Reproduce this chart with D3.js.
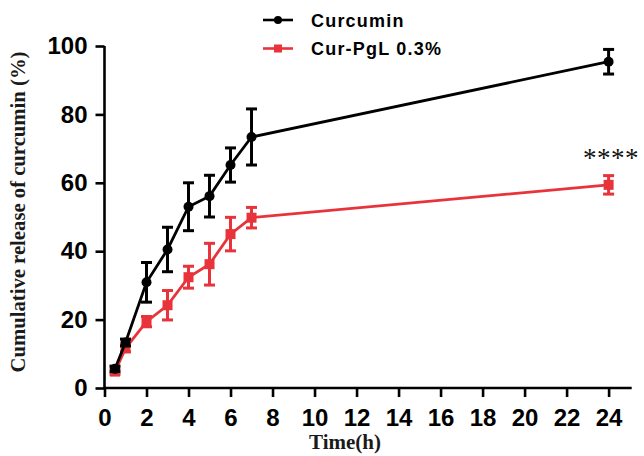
<!DOCTYPE html>
<html><head><meta charset="utf-8">
<script src="https://cdn.jsdelivr.net/npm/d3@7"></script>
<style>body{margin:0;background:#fff}svg{display:block}</style>
</head><body><svg id="c" width="644" height="456"></svg>
<script>
const times = [0.5, 1, 2, 3, 4, 5, 6, 7, 24];
const curcumin = [5.6, 13.3, 30.9, 40.5, 53, 56.1, 65.2, 73.4, 95.4];
const curcuminErr = [0.8, 1, 5.8, 6.5, 7, 6.1, 5, 8.2, 3.6];
const curPgl = [4.8, 11.6, 19.4, 24.2, 32.4, 36.2, 45, 49.8, 59.4];
const curPglErr = [0.8, 1, 1.5, 4.3, 3.2, 6.1, 4.9, 3, 2.7];
const xTicks = [0,2,4,6,8,10,12,14,16,18,20,22,24];
const yTicks = [0,20,40,60,80,100];
const seriesNames = ["Curcumin", "Cur-PgL 0.3%"];
const colors = ["#000000", "#e8333a"];

const svg = d3.select("#c");
const x = d3.scaleLinear().domain([0, 25.1]).range([104.5, 631.7]);
const y = d3.scaleLinear().domain([0, 100]).range([388, 46]);

const tickFont = "'Liberation Sans', Arial, sans-serif";

const xAxis = svg.append("g").attr("transform","translate(0,388)")
  .call(d3.axisBottom(x).tickValues(xTicks).tickSize(9).tickPadding(12).tickSizeOuter(0));
const yAxis = svg.append("g").attr("transform","translate(104.5,0)")
  .call(d3.axisLeft(y).tickValues(yTicks).tickSize(9).tickPadding(8).tickSizeOuter(0));
[xAxis, yAxis].forEach(g => {
  g.select(".domain").attr("stroke","#000").attr("stroke-width",2.6);
  g.selectAll(".tick line").attr("stroke","#000").attr("stroke-width",2.6);
  g.selectAll(".tick text").attr("fill","#000").style("font-family",tickFont)
   .style("font-size","24px").style("font-weight","bold");
});
xAxis.select(".domain").attr("d", `M${x(0)-1},0H${x(25.1)}`);
yAxis.select(".domain").attr("d", `M0,${y(0)+1}V${y(100)}`);

function drawSeries(vals, errs, color, shape){
  const g = svg.append("g");
  const line = d3.line().x((d,i)=>x(times[i])).y(d=>y(d));
  g.append("path").datum(vals).attr("d", line).attr("fill","none")
    .attr("stroke", color).attr("stroke-width", 2.8);
  vals.forEach((v,i)=>{
    const cx = x(times[i]), e = errs[i];
    const top = y(v+e), bot = y(v-e);
    g.append("line").attr("x1",cx).attr("x2",cx).attr("y1",top).attr("y2",bot)
      .attr("stroke",color).attr("stroke-width",3);
    [top, bot].forEach(yy => g.append("line").attr("x1",cx-5.5).attr("x2",cx+5.5)
      .attr("y1",yy).attr("y2",yy).attr("stroke",color).attr("stroke-width",3));
    if(shape==="circle"){
      g.append("circle").attr("cx",cx).attr("cy",y(v)).attr("r",5).attr("fill",color);
    } else {
      g.append("rect").attr("x",cx-5).attr("y",y(v)-5).attr("width",10).attr("height",10).attr("fill",color);
    }
  });
}
drawSeries(curPgl, curPglErr, colors[1], "square");
drawSeries(curcumin, curcuminErr, colors[0], "circle");

// legend
const leg = svg.append("g");
[0,1].forEach(i=>{
  const ly = i===0 ? 20 : 48.5;
  leg.append("line").attr("x1",263).attr("x2",293).attr("y1",ly).attr("y2",ly)
    .attr("stroke",colors[i]).attr("stroke-width",2.6);
  if(i===0) leg.append("circle").attr("cx",278).attr("cy",ly).attr("r",4).attr("fill",colors[i]);
  else leg.append("rect").attr("x",274).attr("y",ly-4).attr("width",8).attr("height",8).attr("fill",colors[i]);
  leg.append("text").attr("x",311).attr("y",ly+6.5).text(seriesNames[i])
    .style("font-family",tickFont).style("font-size","18px").style("font-weight","bold")
    .style("letter-spacing","1.2px").attr("fill","#000");
});

// axis titles
svg.append("text").attr("transform","translate(25,212) rotate(-90)")
  .attr("text-anchor","middle").attr("textLength",321).attr("lengthAdjust","spacingAndGlyphs")
  .style("font-family","'Liberation Serif','Times New Roman',serif").style("font-size","22px")
  .style("font-weight","bold").attr("fill","#1a1a1a")
  .text("Cumulative release of curcumin (%)");
svg.append("text").attr("x",345).attr("y",449).attr("text-anchor","middle")
  .style("font-family","'Liberation Serif','Times New Roman',serif").style("font-size","21px")
  .style("font-weight","bold").attr("fill","#1a1a1a").text("Time(h)");

// significance
svg.append("text").attr("x",583).attr("y",167)
  .style("font-family","'Liberation Serif','Times New Roman',serif").style("font-size","27px")
  .style("letter-spacing","0.5px").attr("fill","#111").text("****");
</script></body></html>
